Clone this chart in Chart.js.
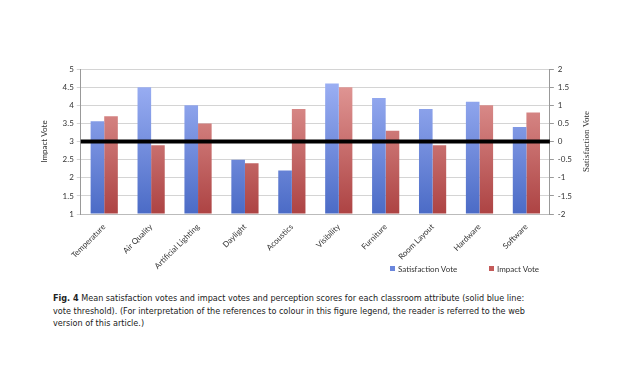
<!DOCTYPE html>
<html>
<head>
<meta charset="utf-8">
<script src="https://cdn.jsdelivr.net/npm/chart.js@4.4.1/dist/chart.umd.min.js"></script>
<style>
  html, body { margin: 0; padding: 0; background: #fff; }
  #wrap { position: relative; width: 630px; height: 376px; overflow: hidden; }
  #chart-box { position: absolute; left: 32px; top: 60px; width: 565px; height: 211px; }
  .legend-item {
    position: absolute; top: 264px; font-family: Lato, "Open Sans", sans-serif;
    font-size: 8px; color: #333; white-space: nowrap;
  }
  .legend-item span { display: inline-block; width: 5px; height: 5px; margin-right: 3px; vertical-align: 1px; }
  #caption {
    position: absolute; left: 53px; top: 292px; width: 555px;
    font-family: "Liberation Sans Narrow", "DejaVu Sans Condensed", "Open Sans", sans-serif;
    font-size: 9px; line-height: 12.5px; color: #222;
  }
  #caption b { font-weight: bold; }
</style>
</head>
<body>
<div id="wrap">
  <div id="chart-box"><canvas id="chartCanvas"></canvas></div>
  <div class="legend-item" style="left:390px"><span style="background:#6a86dc"></span>Satisfaction Vote</div>
  <div class="legend-item" style="left:489px"><span style="background:#c45a59"></span>Impact Vote</div>
  <div id="caption"><b>Fig. 4</b> Mean satisfaction votes and impact votes and perception scores for each classroom attribute (solid blue line:<br>vote threshold). (For interpretation of the references to colour in this figure legend, the reader is referred to the web<br>version of this article.)</div>
</div>
<script>
const categories = ["Temperature", "Air Quality", "Artificial Lighting", "Daylight", "Acoustics",
                    "Visibility", "Furniture", "Room Layout", "Hardware", "Software"];
const satisfactionVotes = [0.56, 1.5, 1.0, -0.5, -0.8, 1.6, 1.2, 0.9, 1.1, 0.4];
const impactVotes = [3.7, 2.9, 3.5, 2.4, 3.9, 4.5, 3.3, 2.9, 4.0, 3.8];
const impactTicks = [1, 1.5, 2, 2.5, 3, 3.5, 4, 4.5, 5];
const satisfactionTicks = [-2, -1.5, -1, -0.5, 0, 0.5, 1, 1.5, 2];
const thresholdImpact = 3;

function barGradient(top, bottom) {
    return function (context) {
        const chart = context.chart;
        const area = chart.chartArea;
        if (!area) return bottom;
        const g = chart.ctx.createLinearGradient(0, area.top, 0, area.bottom);
        g.addColorStop(0, top);
        g.addColorStop(1, bottom);
        return g;
    };
}

// thick black threshold line + right axis title (reads bottom to top)
const extras = {
    id: 'extras',
    afterDatasetsDraw(chart) {
        const ctx = chart.ctx;
        const area = chart.chartArea;
        const y = chart.scales.y.getPixelForValue(thresholdImpact);
        ctx.save();
        ctx.strokeStyle = '#000';
        ctx.lineWidth = 4;
        ctx.beginPath();
        ctx.moveTo(area.left, y);
        ctx.lineTo(area.right, y);
        ctx.stroke();

        const r = chart.scales.y1;
        ctx.translate(r.right + 15, (area.top + area.bottom) / 2);
        ctx.rotate(-Math.PI / 2);
        ctx.fillStyle = '#333';
        ctx.font = '9px "Liberation Serif", serif';
        ctx.textAlign = 'center';
        ctx.textBaseline = 'bottom';
        ctx.fillText('Satisfaction Vote', 0, 0);
        ctx.restore();
    }
};

const tickFont = { family: 'Lato, "Open Sans", sans-serif', size: 8 };

new Chart(document.getElementById('chartCanvas').getContext('2d'), {
    type: 'bar',
    data: {
        labels: categories,
        datasets: [{
            label: 'Satisfaction Vote',
            data: satisfactionVotes,
            yAxisID: 'y1',
            base: -2,
            backgroundColor: barGradient('#a3b6f8', '#4b6bc6'),
            borderWidth: 0
        }, {
            label: 'Impact Vote',
            data: impactVotes,
            yAxisID: 'y',
            base: 1,
            backgroundColor: barGradient('#e6a09e', '#ad4343'),
            borderWidth: 0
        }]
    },
    options: {
        responsive: true,
        maintainAspectRatio: false,
        animation: false,
        categoryPercentage: 0.58,
        barPercentage: 1,
        layout: { padding: { top: 9, right: 21, left: 4, bottom: 0 } },
        plugins: {
            tooltip: { enabled: false },
            legend: { display: false }
        },
        scales: {
            x: {
                grid: { display: false },
                border: { color: '#bbb' },
                ticks: { color: '#333', font: tickFont, maxRotation: 45, minRotation: 45, autoSkip: false, padding: 0 }
            },
            y: {
                position: 'left',
                min: 1, max: 5,
                afterBuildTicks: axis => { axis.ticks = impactTicks.map(v => ({ value: v })); },
                grid: { color: '#d4d4d4', tickLength: 4 },
                border: { color: '#999' },
                ticks: { color: '#333', font: tickFont, padding: 3, callback: v => String(v) },
                title: { display: true, text: 'Impact Vote', color: '#333', font: { family: 'Lato, "Open Sans", sans-serif', size: 8 }, padding: { bottom: 10 } }
            },
            y1: {
                position: 'right',
                min: -2, max: 2,
                afterBuildTicks: axis => { axis.ticks = satisfactionTicks.map(v => ({ value: v })); },
                grid: { drawOnChartArea: false, color: '#999', tickLength: 4 },
                border: { color: '#999' },
                ticks: { color: '#333', font: tickFont, padding: 4, callback: v => String(v) }
            }
        }
    },
    plugins: [extras]
});
</script>
</body>
</html>
